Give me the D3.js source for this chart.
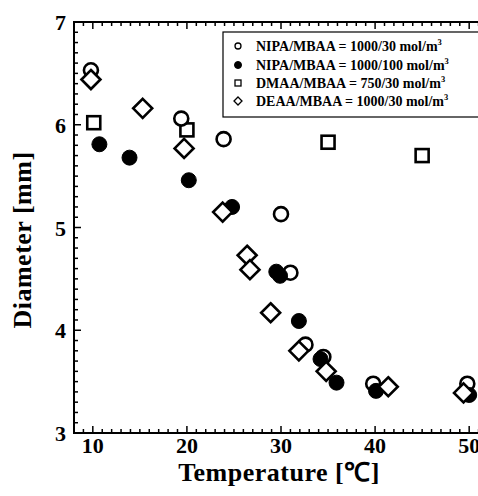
<!DOCTYPE html>
<html><head><meta charset="utf-8">
<script src="https://cdn.jsdelivr.net/npm/d3@7"></script>
<style>
body{margin:0;background:#fff;}
text{font-family:"Liberation Serif","Times New Roman",serif;font-weight:bold;}
</style></head>
<body>
<script>
// Data
const nipa30T = [9.8, 19.4, 23.9, 30.0, 31.0, 32.6, 34.5, 39.8, 49.8];
const nipa30D = [6.53, 6.06, 5.86, 5.13, 4.56, 3.86, 3.74, 3.48, 3.48];
const nipa100T = [10.7, 13.9, 20.2, 24.8, 29.5, 29.9, 31.9, 34.2, 35.9, 40.1, 50.0];
const nipa100D = [5.81, 5.68, 5.46, 5.20, 4.57, 4.53, 4.09, 3.72, 3.49, 3.41, 3.37];
const dmaaT = [10.1, 20.0, 35.0, 45.0];
const dmaaD = [6.02, 5.95, 5.83, 5.70];
const deaaT = [9.8, 15.3, 19.7, 23.8, 26.4, 26.7, 28.9, 31.9, 34.8, 41.4, 49.4];
const deaaD = [6.44, 6.16, 5.77, 5.15, 4.73, 4.59, 4.17, 3.80, 3.60, 3.45, 3.39];
const seriesNames = ["NIPA/MBAA = 1000/30 mol/m", "NIPA/MBAA = 1000/100 mol/m", "DMAA/MBAA = 750/30 mol/m", "DEAA/MBAA = 1000/30 mol/m"];
const xTicks = [10, 20, 30, 40, 50];
const yTicks = [3, 4, 5, 6, 7];
const xLabel = "Temperature [℃]";
const yLabel = "Diameter [mm]";

const W = 478, H = 496;
const L = 74, T = 22, B = 433, R = 488;
const svg = d3.select("body").append("svg").attr("width", W).attr("height", H);
const x = d3.scaleLinear().domain([8, 52]).range([L, R]);
const y = d3.scaleLinear().domain([3, 7]).range([B, T]);

// frame
const g = svg.append("g");
g.append("line").attr("x1", L).attr("x2", L).attr("y1", T).attr("y2", B).attr("stroke", "#000").attr("stroke-width", 2);
g.append("line").attr("x1", L - 1).attr("x2", R).attr("y1", B).attr("y2", B).attr("stroke", "#000").attr("stroke-width", 2);
g.append("line").attr("x1", L - 1).attr("x2", R).attr("y1", T).attr("y2", T).attr("stroke", "#000").attr("stroke-width", 2);

// ticks
const xMinor = d3.range(8, 53, 1);
const yMinor = d3.range(30, 71, 1).map(v => v / 10);
xMinor.forEach(v => {
  const major = v % 10 === 0;
  const len = major ? 7 : 4;
  g.append("line").attr("x1", x(v)).attr("x2", x(v)).attr("y1", B).attr("y2", B - len).attr("stroke", "#000").attr("stroke-width", 1.5);
  g.append("line").attr("x1", x(v)).attr("x2", x(v)).attr("y1", T).attr("y2", T + len).attr("stroke", "#000").attr("stroke-width", 1.5);
});
yMinor.forEach(v => {
  const major = Math.abs(v - Math.round(v)) < 1e-9;
  const len = major ? 7 : 4;
  g.append("line").attr("x1", L).attr("x2", L + len).attr("y1", y(v)).attr("y2", y(v)).attr("stroke", "#000").attr("stroke-width", 1.5);
});

// tick labels
svg.selectAll(".xt").data(xTicks).enter().append("text")
  .attr("x", d => x(d)).attr("y", 453).attr("text-anchor", "middle")
  .attr("font-size", 22).text(d => d);
svg.selectAll(".yt").data(yTicks).enter().append("text")
  .attr("x", 66).attr("y", d => y(d) + 8).attr("text-anchor", "end")
  .attr("font-size", 22).text(d => d);

// axis titles
svg.append("text").attr("x", 279).attr("y", 481).attr("text-anchor", "middle")
  .attr("font-size", 26).attr("letter-spacing", 0.5).text(xLabel);
svg.append("text").attr("transform", "translate(31,240) rotate(-90)").attr("text-anchor", "middle")
  .attr("font-size", 26).attr("letter-spacing", 0.5).text(yLabel);

// symbols
function circle(sel, cx, cy, r, filled, sw) {
  sel.append("circle").attr("cx", cx).attr("cy", cy).attr("r", r)
    .attr("fill", filled ? "#000" : "#fff").attr("stroke", "#000").attr("stroke-width", filled ? 1 : sw);
}
function square(sel, cx, cy, s, sw) {
  sel.append("rect").attr("x", cx - s / 2).attr("y", cy - s / 2).attr("width", s).attr("height", s)
    .attr("fill", "#fff").attr("stroke", "#000").attr("stroke-width", sw);
}
function diamond(sel, cx, cy, s, sw) {
  sel.append("path").attr("d", `M${cx},${cy - s}L${cx + s},${cy}L${cx},${cy + s}L${cx - s},${cy}Z`)
    .attr("fill", "#fff").attr("stroke", "#000").attr("stroke-width", sw);
}
const pts = svg.append("g");
dmaaT.forEach((t, i) => square(pts, x(t), y(dmaaD[i]), 13, 2.6));
nipa30T.forEach((t, i) => circle(pts, x(t), y(nipa30D[i]), 7, false, 2.6));
nipa100T.forEach((t, i) => circle(pts, x(t), y(nipa100D[i]), 7.5, true));
deaaT.forEach((t, i) => diamond(pts, x(t), y(deaaD[i]), 9.5, 2.6));

// legend
const lg = svg.append("g");
lg.append("rect").attr("x", 223).attr("y", 32).attr("width", 270).attr("height", 85)
  .attr("fill", "#fff").attr("stroke", "#000").attr("stroke-width", 1.2);
const rowY = [46, 65, 83, 101];
seriesNames.forEach((name, i) => {
  const cy = rowY[i], cx = 238;
  if (i === 0) circle(lg, cx, cy, 3, false, 1.3);
  if (i === 1) circle(lg, cx, cy, 3.5, true);
  if (i === 2) square(lg, cx, cy, 6, 1.3);
  if (i === 3) diamond(lg, cx, cy, 4, 1.3);
  const t = lg.append("text").attr("x", 256).attr("y", cy + 4.5).attr("font-size", 14);
  t.append("tspan").text(name);
  t.append("tspan").attr("dy", -6).attr("font-size", 8.5).text("3");
});
</script>
</body></html>
